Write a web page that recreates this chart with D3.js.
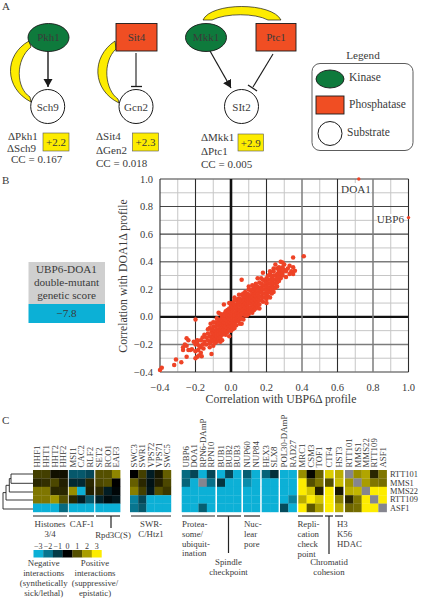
<!DOCTYPE html>
<html><head><meta charset="utf-8">
<script src="https://cdn.jsdelivr.net/npm/d3@7/dist/d3.min.js"></script>
<style>html,body{margin:0;padding:0;background:#fff}svg{display:block}text{font-family:"Liberation Serif",serif;fill:#3a3a3a}</style>
</head><body><svg id="c" width="421" height="599"></svg>
<script>
// ---------- DATA ----------
const tickValues=[-0.4,-0.2,0,0.2,0.4,0.6,0.8,1];
const outlierPoints=[[0.72,1],[1,0.72]];
const scatterPoints=[[0.41,0.44],[0.35,0.43],[0.06,0.27],[0.28,0.40],[0.29,0.395],[0.25,0.38],[0.18,0.32],[0.24,0.35],[0.3,0.38],[0.33,0.37],[0.35,0.36],[0.32,0.35],[0.34,0.33],[0.36,0.335],[0.33,0.31],[0.35,0.31],[0.31,0.29],[0.28,0.28],[0.3,0.34],
[-0.39,-0.37],[-0.4,-0.385],[-0.32,-0.35],[-0.31,-0.31],[-0.28,-0.33],[-0.25,-0.29],[-0.2,-0.02],[-0.2,-0.3],[-0.19,-0.29],[-0.18,-0.28],[-0.17,-0.26],[-0.165,-0.285],[-0.11,-0.27],[-0.115,-0.05],[-0.04,0.09],[-0.07,0.03],[-0.24,-0.24],[-0.23,-0.24],[-0.22,-0.235],[-0.25,-0.155],[-0.24,-0.17],[-0.27,-0.24],[-0.27,-0.22],[-0.26,-0.2],[-0.25,-0.21],[-0.2,-0.2],[-0.21,-0.18],[-0.19,-0.19],[-0.18,-0.21],[-0.17,-0.22],[-0.16,-0.2],[-0.19,-0.17],[-0.17,-0.17],[-0.15,-0.13],[-0.16,-0.15],[-0.15,-0.18],[-0.14,-0.2],[-0.12,-0.22],[-0.1,-0.21],[-0.11,-0.18],[-0.13,-0.17],[-0.12,-0.14],[-0.14,-0.15],[-0.13,-0.12],[-0.12,-0.19],
[-0.11,-0.11],[-0.11,-0.14],[-0.11,-0.16],[-0.105,-0.09],[-0.1,-0.07],[-0.1,-0.12],[-0.1,-0.15],[-0.1,-0.17],[-0.09,-0.1],[-0.09,-0.13],[-0.09,-0.16],[-0.09,-0.07],[-0.085,-0.04],[-0.08,-0.06],[-0.08,-0.09],[-0.08,-0.12],[-0.08,-0.14],[-0.08,-0.18],[-0.07,-0.03],[-0.07,-0.06],[-0.07,-0.09],[-0.07,-0.11],[-0.07,-0.13],[-0.07,-0.16],[-0.06,-0.02],[-0.06,-0.05],[-0.06,-0.07],[-0.06,-0.1],[-0.06,-0.12],[-0.06,-0.15],[-0.05,0],[-0.05,-0.03],[-0.05,-0.06],[-0.05,-0.08],[-0.05,-0.1],[-0.05,-0.13],[-0.05,-0.17],[-0.04,0.02],[-0.04,-0.01],[-0.04,-0.04],[-0.04,-0.06],[-0.04,-0.09],[-0.04,-0.11],[-0.03,0.04],[-0.03,0.01],[-0.03,-0.02],[-0.03,-0.05],[-0.03,-0.07],[-0.03,-0.1],[-0.03,-0.13],[-0.02,0.05],[-0.02,0.02],[-0.02,0],[-0.02,-0.03],[-0.02,-0.05],[-0.02,-0.08],[-0.02,-0.11],[-0.01,0.06],[-0.01,0.03],[-0.01,0.01],[-0.01,-0.01],[-0.01,-0.04],[-0.01,-0.06],[-0.01,-0.09],[-0.01,-0.14],
[0,0.08],[0,0.05],[0,0.03],[0,0],[0,-0.02],[0,-0.05],[0,-0.07],[0,-0.1],[0.01,0.1],[0.01,0.07],[0.01,0.04],[0.01,0.02],[0.01,-0.01],[0.01,-0.03],[0.01,-0.06],[0.01,-0.09],[0.02,0.14],[0.02,0.09],[0.02,0.06],[0.02,0.03],[0.02,0.01],[0.02,-0.02],[0.02,-0.05],[0.02,-0.08],[0.03,0.12],[0.03,0.09],[0.03,0.07],[0.03,0.04],[0.03,0.02],[0.03,-0.01],[0.03,-0.03],[0.03,-0.06],[0.04,0.13],[0.04,0.1],[0.04,0.08],[0.04,0.05],[0.04,0.02],[0.04,0],[0.04,-0.03],[0.05,0.13],[0.05,0.11],[0.05,0.08],[0.05,0.05],[0.05,0.03],[0.05,0.01],[0.05,-0.02],[0.05,-0.05],[0.06,0.16],[0.06,0.12],[0.06,0.09],[0.06,0.07],[0.06,0.04],[0.06,0.02],[0.06,-0.01],[0.07,0.17],[0.07,0.14],[0.07,0.11],[0.07,0.08],[0.07,0.05],[0.07,0.02],[0.07,-0.02],[0.08,0.18],[0.08,0.15],[0.08,0.12],[0.08,0.1],[0.08,0.07],[0.08,0.04],[0.08,0.01],[0.09,0.17],[0.09,0.14],[0.09,0.12],[0.09,0.09],[0.09,0.06],[0.09,0.03],[0.1,0.2],[0.1,0.16],[0.1,0.13],[0.1,0.1],[0.1,0.07],[0.1,0.05],[0.1,0.02],[0.11,0.19],[0.11,0.15],[0.11,0.13],[0.11,0.1],[0.11,0.07],[0.11,0.04],[0.12,0.2],[0.12,0.17],[0.12,0.14],[0.12,0.12],[0.12,0.09],[0.12,0.06],[0.12,0.03],[0.13,0.22],[0.13,0.19],[0.13,0.16],[0.13,0.13],[0.13,0.1],[0.13,0.07],[0.13,0.05],[0.14,0.24],[0.14,0.2],[0.14,0.17],[0.14,0.15],[0.14,0.12],[0.14,0.09],[0.14,0.06],[0.15,0.22],[0.15,0.19],[0.15,0.16],[0.15,0.13],[0.15,0.1],[0.15,0.07],[0.16,0.25],[0.16,0.21],[0.16,0.18],[0.16,0.15],[0.16,0.12],[0.16,0.09],[0.17,0.24],[0.17,0.21],[0.17,0.18],[0.17,0.15],[0.17,0.12],[0.18,0.27],[0.18,0.23],[0.18,0.2],[0.18,0.17],[0.18,0.14],[0.18,0.11],[0.19,0.26],[0.19,0.23],[0.19,0.2],[0.19,0.17],[0.19,0.14],[0.2,0.28],[0.2,0.25],[0.2,0.22],[0.2,0.19],[0.2,0.16],[0.2,0.13],[0.21,0.3],[0.21,0.27],[0.21,0.24],[0.21,0.21],[0.21,0.18],[0.21,0.15],[0.22,0.31],[0.22,0.27],[0.22,0.24],[0.22,0.21],[0.22,0.18],[0.22,0.14],[0.23,0.29],[0.23,0.26],[0.23,0.23],[0.23,0.2],[0.23,0.17],[0.24,0.33],[0.24,0.3],[0.24,0.27],[0.24,0.24],[0.24,0.21],[0.24,0.18],[0.25,0.3],[0.25,0.27],[0.25,0.24],[0.25,0.21],[0.26,0.35],[0.26,0.31],[0.26,0.28],[0.26,0.25],[0.26,0.22],[0.27,0.36],[0.27,0.33],[0.27,0.29],[0.27,0.26],[0.28,0.34],[0.28,0.31],[0.29,0.36],[0.29,0.32],[0.29,0.3],[0.31,0.33],[0.15,0.28],[0.12,0.23],[-0.01,0.1],[0.09,0.01],[0.16,0.06],[0.2,0.1],[-0.12,-0.08],[-0.13,-0.09],[-0.1,-0.04],[-0.06,0.02],[-0.08,-0.01],[0.02,0.12],[0.06,-0.05],[0.1,0.22],[0.17,0.28],[0.22,0.33],[-0.155,-0.23],[-0.185,-0.24],[-0.2,-0.25],[-0.09,-0.19],[-0.06,-0.18],[0.045,0.16]];
const histonesColumns=["HHF1","HHT1","HHT2","HHF2"], cafColumns=["MSI1","CAC2","RLF2"], rpdColumns=["SET2","RCO1","EAF3"], swrColumns=["SWC3","SWR1","VPS72","VPS71","SWC5"], proteaColumns=["UBP6","DOA1","RPN6-DAmP","RPN10"], bubColumns=["BUB1","BUB2","BUB3"], nupColumns=["NUP60","NUP84"], hexColumns=["HEX3","SLX8"], polColumns=["POL30-DAmP","RAD27"], mrcColumns=["MRC1","CSM3","TOF1"], ctfColumns=["CTF4"], hstColumns=["HST3"], rttColumns=["RTT101","MMS1","MMS22","RTT109","ASF1"];
const rowLabels=["RTT101","MMS1","MMS22","RTT109","ASF1"];
const N=null; // grey: no score
const histonesValues=[[.8,.8,.2,.2],[.5,.6,.9,.4],[1.5,1.5,.5,.5],[1.5,1.5,1.9,1],[-3,-3,-3,-1.8]];
const cafValues=[[-1.5,-1.5,-1.2],[-.7,-.7,.5],[1.8,-3,.4],[.5,-.5,-1.5],[-3,-3,-3]];
const rpdValues=[[1,1,1.7],[.9,1,0],[.5,-.5,-.1],[-.6,-.2,-.4],[-3,-3,-3]];
const swrValues=[[0,.8,-.5,.3,1.2],[1.2,.5,-.3,.4,.9],[1.6,.8,-.4,1,.7],[-2.2,-1.2,-3,-3,-3],[-2,-1.5,-3,-3,-3]];
const proteaValues=[[-1.8,-1.2,-3,-1.2],[-1.7,-3,N,-1.9],[-3,-3,-3,-3],[-3,-3,-3,-3],[-3,-3,-1.6,-3]];
const bubValues=[[-3,-1.2,-3],[-.9,-3,-3],[-3,-3,-3],[-3,-3,-3],[-3,-3,-3]];
const nupValues=[[-1.6,-3],[-2.4,-3],[-3,-3],[-3,-3],[-3,-3]];
const hexValues=[[-1.7,-.8],[-3,-3],[-3,-3],[-3,-3],[-3,-3]];
const polValues=[[-3,-3],[-3,-3],[-3,-3],[-3,-2.2],[-1.3,-3]];
const mrcValues=[[1.8,.1,1.2],[3,1,1.5],[3,2.5,.4],[2.2,3,2.5],[3,1.1,2]];
const ctfValues=[[2.6],[1],[3],[3],[3]];
const hstValues=[[2.2],[2.4],[.3],[1.6],[2.2]];
const rttValues=[[N,1.8,2.1,.5,1.5],[1.9,N,2,1.5,1.4],[2.2,2.3,N,3,3],[.5,1.5,3,N,3],[1.3,1.4,3,3,N]];
const legendSteps=[-3,-2,-1,0,1,2,3];

// ---------- LAYOUT ----------
const svg=d3.select("#c");
const GREEN="#0e7a3c",RED="#f04e23",YEL="#fdec00",CYAN="#0cb0d6",INK="#1a1a1a";
const txt=(s,x,y,o={})=>{const t=svg.append("text").attr("x",x).attr("y",y).attr("font-size",o.size||11).attr("text-anchor",o.anchor||"start").text(s);if(o.fill)t.style("fill",o.fill);if(o.rot!=null)t.attr("transform",`rotate(${o.rot} ${x} ${y})`);return t;};
const defs=svg.append("defs");
defs.append("marker").attr("id","ah").attr("markerUnits","userSpaceOnUse").attr("markerWidth",9).attr("markerHeight",10).attr("refX",8).attr("refY",4.5).attr("orient","auto").append("path").attr("d","M0,0L8,4.5L0,9Z").attr("fill",INK);

// ---- Panel A
txt("A",2,10,{size:11});txt("B",2,184,{size:11});txt("C",2,424,{size:11});
const crescents=["M29,41C4,55 4,88 31,102L30,97C16,88 15,60 31,47Z","M115,41C91,57 92,90 119,103L118,99C105,90 102,62 116,49Z","M203,20C211,2 272,2 281,20L268,20C255,13 226,13 212,20Z"];
svg.selectAll(".cres").data(crescents).join("path").attr("d",d=>d).attr("fill",YEL).attr("stroke",INK).attr("stroke-width",.7);
const ln=(a,b,c,d,w=1.1,col=INK)=>svg.append("line").attr("x1",a).attr("y1",b).attr("x2",c).attr("y2",d).attr("stroke",col).attr("stroke-width",w);
ln(48,51,48,87,1.4).attr("marker-end","url(#ah)");
ln(136,53,136,86);ln(131,86.5,142,86.5,1.3);
ln(210,51,231,88,1.2).attr("marker-end","url(#ah)");
ln(273,54,253,87);ln(248,85,257,91,1.3);
const ell=(x,y,rx,ry)=>svg.append("ellipse").attr("cx",x).attr("cy",y).attr("rx",rx).attr("ry",ry).attr("fill",GREEN).attr("stroke",INK).attr("stroke-width",.9);
const box=(x,y,w,h,f)=>svg.append("rect").attr("x",x).attr("y",y).attr("width",w).attr("height",h).attr("fill",f).attr("stroke",INK).attr("stroke-width",.9);
const circ=(x,y,r)=>svg.append("circle").attr("cx",x).attr("cy",y).attr("r",r).attr("fill","#fff").attr("stroke",INK).attr("stroke-width",1);
ell(48.5,37.5,20.5,14);box(116,23.5,41,27.5,RED);ell(206,37.5,20.5,14);box(256,23.5,40,27.5,RED);
circ(47.7,106.5,17);circ(136,106.5,17);circ(241.5,106.5,17);
[["Pkh1",48.5,41],["Sit4",136.5,41],["Mkk1",206,41],["Ptc1",276,41],["Sch9",47.7,110.5],["Gcn2",136,110.5],["SIt2",241.5,110.5]].forEach(d=>txt(d[0],d[1],d[2],{anchor:"middle",size:11}));
[[43,133,26,18,"+2.2"],[132.5,133,26,18,"+2.3"],[238,134,25.5,17,"+2.9"]].forEach(d=>{svg.append("rect").attr("x",d[0]).attr("y",d[1]).attr("width",d[2]).attr("height",d[3]).attr("fill",YEL).attr("stroke","#555").attr("stroke-width",.6);txt(d[4],d[0]+d[2]/2,d[1]+d[3]/2+4,{anchor:"middle",size:11});});
[["ΔPkh1",8,140],["ΔSch9",7,152],["CC = 0.167",11,163],["ΔSit4",96,140],["ΔGen2",96,154],["CC = 0.018",96,167],["ΔMkk1",201,141],["ΔPtc1",201,155],["CC = 0.005",201,168]].forEach(d=>txt(d[0],d[1],d[2],{size:11}));
txt("Legend",363,59,{anchor:"middle",size:11.2});
svg.append("rect").attr("x",312).attr("y",63.5).attr("width",101).attr("height",87).attr("rx",8).attr("fill","#fff").attr("stroke","#333").attr("stroke-width",.8);
ell(330,79,14,9);box(316,96,28,18,RED);circ(330,133.5,12);
txt("Kinase",349,81,{size:11.5});txt("Phosphatase",349,108,{size:11.5});txt("Substrate",347,136,{size:11.5});

// ---- Panel B
const x=d3.scaleLinear().domain([-0.4,1]).range([160,408.5]);
const y=d3.scaleLinear().domain([-0.4,1]).range([372,179]);
const minor=d3.range(-3,10,2).map(d=>d/10);
const g=svg.append("g");
g.selectAll(".mv").data(minor).join("line").attr("x1",x).attr("x2",x).attr("y1",y(1)).attr("y2",y(-0.4)).attr("stroke","#c6c6c6").attr("stroke-width",1);
g.selectAll(".mh").data(minor).join("line").attr("y1",y).attr("y2",y).attr("x1",x(-0.4)).attr("x2",x(1)).attr("stroke","#c6c6c6").attr("stroke-width",1);
const vStyle=v=>Math.abs(v)<.01?["#111",2.6]:(Math.abs(v-.4)<.01||Math.abs(v-.8)<.01)?["#7c7c7c",1.5]:["#2c2c2c",1.1];
const hStyle=v=>Math.abs(v)<.01?["#111",2.4]:(Math.abs(v-.4)<.01||Math.abs(v+.2)<.01||Math.abs(v-1)<.01||Math.abs(v+.4)<.01)?["#7c7c7c",1.5]:["#444",1.1];
g.selectAll(".Mh").data(tickValues).join("line").attr("y1",y).attr("y2",y).attr("x1",x(-0.4)).attr("x2",x(1)).attr("stroke",d=>hStyle(d)[0]).attr("stroke-width",d=>hStyle(d)[1]);
g.selectAll(".Mv").data(tickValues).join("line").attr("x1",x).attr("x2",x).attr("y1",y(1)).attr("y2",y(-0.4)).attr("stroke",d=>vStyle(d)[0]).attr("stroke-width",d=>vStyle(d)[1]);
g.selectAll(".pt").data(scatterPoints).join("circle").attr("cx",d=>x(d[0])).attr("cy",d=>y(d[1])).attr("r",2.25).attr("fill","#ee4326");
g.selectAll(".op").data(outlierPoints).join("circle").attr("cx",d=>x(d[0])).attr("cy",d=>y(d[1])).attr("r",1.7).attr("fill","#ee4326");
const fmt=d=>(d<0?"−":"")+Math.abs(d).toFixed(1);
svg.selectAll(".xt").data(tickValues).join("text").attr("x",x).attr("y",391).attr("text-anchor","middle").attr("font-size",10.5).text(fmt);
svg.selectAll(".yt").data(tickValues).join("text").attr("x",153).attr("y",d=>y(d)+3.5).attr("text-anchor","end").attr("font-size",10.5).text(fmt);
txt("Correlation with UBP6Δ profile",281,403,{anchor:"middle",size:11.8});
txt("Correlation with DOA1Δ profile",127,276,{anchor:"middle",size:11.8,rot:-90});
svg.append("rect").attr("x",341).attr("y",183).attr("width",30).attr("height",10).attr("fill","#fff");
svg.append("rect").attr("x",377).attr("y",214).attr("width",27).attr("height",10).attr("fill","#fff");
txt("DOA1",356,193,{anchor:"middle",size:11.2});txt("UBP6",404,223,{anchor:"end",size:11.2});
svg.append("rect").attr("x",28.5).attr("y",262).attr("width",76.5).attr("height",42).attr("fill","#cfcfcf");
svg.append("rect").attr("x",28.5).attr("y",304).attr("width",76.5).attr("height",19).attr("fill",CYAN);
[["UBP6-DOA1",273],["double-mutant",286],["genetic score",299],["−7.8",317]].forEach(d=>txt(d[0],66.5,d[1],{anchor:"middle",size:11.2}));

// ---- Panel C
const color=d3.scaleLinear().domain([-3,0,3]).range([CYAN,"#000",YEL]);
const blocks=[[33,34.7,histonesColumns,histonesValues],[68.7,25.3,cafColumns,cafValues],[95.3,24.9,rpdColumns,rpdValues],[130,41,swrColumns,swrValues],[181.7,33.5,proteaColumns,proteaValues],[217,24.2,bubColumns,bubValues],[243,17,nupColumns,nupValues],[261.7,16.7,hexColumns,hexValues],[280,16.7,polColumns,polValues],[298.3,25,mrcColumns,mrcValues],[325,8.4,ctfColumns,ctfValues],[335,8.2,hstColumns,hstValues],[345,41.7,rttColumns,rttValues]];
const rowY=d3.scaleBand().domain(rowLabels).range([470,512]);
blocks.forEach(([x0,w,cols,vals])=>{
  const cx=d3.scaleBand().domain(cols).range([x0,x0+w]);
  rowLabels.forEach((r,i)=>{svg.append("g").selectAll("rect").data(cols).join("rect").attr("x",c=>cx(c)).attr("y",rowY(r)).attr("width",cx.bandwidth()+.2).attr("height",rowY.bandwidth()+.2).attr("fill",(c,j)=>vals[i][j]===null?"#85858f":color(vals[i][j]));});
  cols.forEach(c=>txt(c,cx(c)+cx.bandwidth()/2+3,467.5,{size:8.8,rot:-90}));
});
rowLabels.forEach(r=>txt(r,390,rowY(r)+rowY.bandwidth()/2+3,{size:8.4}));
const dendro="M33,474H11V483.3H33M11,478.6H9.3V492H33M9.3,485.3H6V500H33M6,492.6H3V509H33";
svg.append("path").attr("d",dendro).attr("fill","none").attr("stroke","#222").attr("stroke-width",.9);
[[33,67],[69,94],[96,120],[131,171],[182,215],[217,241],[244,260],[298,323],[325,333],[335,343]].forEach(d=>ln(d[0],516,d[1],516,1.2,"#222"));
ln(111,516,111,528,1.2,"#222");ln(228.5,516,228.5,553,1.2,"#222");ln(329,516,329,554,1.2,"#222");
const multi=(lines,xp,ys,anchor)=>lines.forEach((l,i)=>txt(l,xp,ys[i],{anchor,size:8.8}));
multi(["Histones","3/4"],50,[527,536.5],"middle");
txt("CAF-1",82,527,{anchor:"middle",size:8.8});
txt("Rpd3C(S)",113,538,{anchor:"middle",size:8.8});
multi(["SWR-","C/Htz1"],151,[527,537],"middle");
multi(["Protea-","some/","ubiquit-","ination"],182,[527,537,547,556],"start");
multi(["Spindle","checkpoint"],228.5,[565,575],"middle");
multi(["Nuc-","lear","pore"],244,[527,537,547],"start");
multi(["Repli-","cation","check","point"],297.5,[527,537,547,557],"start");
multi(["Chromatid","cohesion"],329,[565,575],"middle");
multi(["H3","K56","HDAC"],337,[527,537,547],"start");
const legendX=d3.scaleBand().domain(legendSteps).range([33.5,101.5]);
svg.selectAll(".lg").data(legendSteps).join("rect").attr("x",d=>legendX(d)).attr("y",550).attr("width",legendX.bandwidth()+.2).attr("height",7.5).attr("fill",d=>color(d));
svg.selectAll(".lt").data(legendSteps).join("text").attr("x",d=>legendX(d)+legendX.bandwidth()/2).attr("y",549).attr("text-anchor","middle").attr("font-size",8).text(d=>d<0?"−"+(-d):d);
multi(["Negative","interactions","(synthetically","sick/lethal)"],43.7,[566,576,586,596],"middle");
multi(["Positive","interactions","(suppressive/","epistatic)"],95,[566,576,586,596],"middle");
</script></body></html>
